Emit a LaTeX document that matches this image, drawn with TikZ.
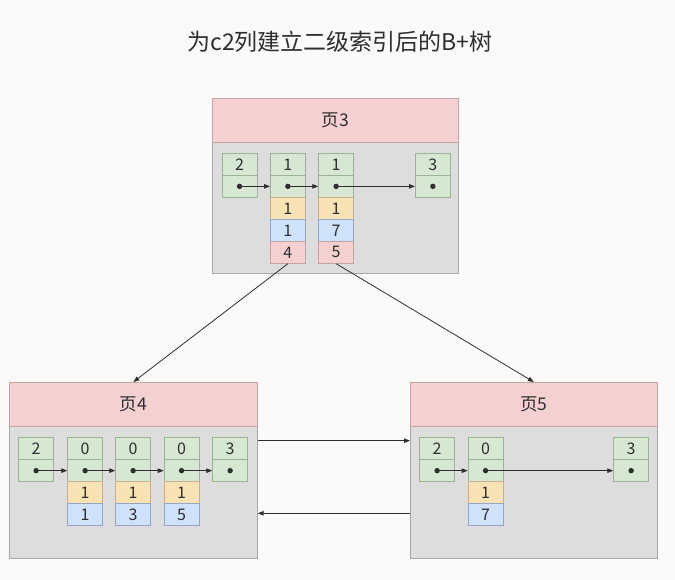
\documentclass[tikz,border=0pt]{standalone}
\usepackage{fontspec}
\setmainfont{Noto Sans CJK SC}
\usetikzlibrary{arrows.meta}
\definecolor{bgc}{HTML}{FAFAFA}
\definecolor{grnf}{HTML}{D6E8D2}
\definecolor{grnd}{HTML}{9DB298}
\definecolor{yelf}{HTML}{F9E2B4}
\definecolor{yeld}{HTML}{C4B08C}
\definecolor{bluf}{HTML}{CFE2FB}
\definecolor{blud}{HTML}{94A8C4}
\definecolor{pnkf}{HTML}{F4D0D0}
\definecolor{pnkd}{HTML}{C4A4A4}
\definecolor{bodf}{HTML}{DDDDDD}
\definecolor{bodd}{HTML}{A8A8A8}
\definecolor{txt}{HTML}{2E2E2E}
\tikzset{
  cellbox/.style={draw, line width=0.7pt, minimum width=35pt, minimum height=22pt, inner sep=0pt, anchor=north west, text=txt, font=\fontsize{16}{16}\selectfont},
  cgreen/.style={cellbox, fill=grnf, draw=grnd},
  cyel/.style={cellbox, fill=yelf, draw=yeld},
  cblue/.style={cellbox, fill=bluf, draw=blud},
  cpink/.style={cellbox, fill=pnkf, draw=pnkd},
  hdr/.style={draw=pnkd, fill=pnkf, line width=0.7pt, inner sep=0pt, anchor=north west, text=txt, font=\fontsize{17.5}{17.5}\selectfont},
  bod/.style={draw=bodd, fill=bodf, line width=0.7pt, inner sep=0pt, anchor=north west},
  link/.style={draw=txt, line width=0.8pt, -{Triangle[length=6pt,width=4.5pt]}},
  dotm/.style={fill=txt},
}
\newcommand{\mkcol}[4]{%
  \foreach \st/\tx [count=\i] in {#4} {
    \node[\st] (#1r\i) at (#2,{#3+(\i-1)*22}) {\tx};
  }
}
\newcommand{\mkdot}[1]{\fill[dotm] (#1) circle[radius=2.7pt];}
\begin{document}
\begin{tikzpicture}[x=1pt,y=-1pt]
\fill[bgc] (0,0) rectangle (675,580);
\useasboundingbox (0,0) rectangle (675,580);

\node[text=txt, font=\fontsize{23}{23}\selectfont] (title) at (340,41.5) {为c2列建立二级索引后的B+树};

% page 3
\node[bod, minimum width=246pt, minimum height=131pt] (p3b) at (212,142) {};
\node[hdr, minimum width=246pt, minimum height=44pt] (p3h) at (212,98) {页3};
\mkcol{p3a}{221.7}{153}{cgreen/2,cgreen/{}}
\mkcol{p3c}{270}{153}{cgreen/1,cgreen/{},cyel/1,cblue/1,cpink/4}
\mkcol{p3d}{318.3}{153}{cgreen/1,cgreen/{},cyel/1,cblue/7,cpink/5}
\mkcol{p3e}{415}{153}{cgreen/3,cgreen/{}}
\draw[link] (p3ar2.center) -- (p3cr2.west);
\draw[link] (p3cr2.center) -- (p3dr2.west);
\draw[link] (p3dr2.center) -- (p3er2.west);
\mkdot{p3ar2.center}\mkdot{p3cr2.center}\mkdot{p3dr2.center}\mkdot{p3er2.center}

% page 4
\node[bod, minimum width=248pt, minimum height=132pt] (p4b) at (9,426) {};
\node[hdr, minimum width=248pt, minimum height=44pt] (p4h) at (9,382) {页4};
\mkcol{p4a}{18.3}{437.3}{cgreen/2,cgreen/{}}
\mkcol{p4c}{67.3}{437.3}{cgreen/0,cgreen/{},cyel/1,cblue/1}
\mkcol{p4d}{115.3}{437.3}{cgreen/0,cgreen/{},cyel/1,cblue/3}
\mkcol{p4e}{163.7}{437.3}{cgreen/0,cgreen/{},cyel/1,cblue/5}
\mkcol{p4f}{212.3}{437.3}{cgreen/3,cgreen/{}}
\draw[link] (p4ar2.center) -- (p4cr2.west);
\draw[link] (p4cr2.center) -- (p4dr2.west);
\draw[link] (p4dr2.center) -- (p4er2.west);
\draw[link] (p4er2.center) -- (p4fr2.west);
\mkdot{p4ar2.center}\mkdot{p4cr2.center}\mkdot{p4dr2.center}\mkdot{p4er2.center}\mkdot{p4fr2.center}

% page 5
\node[bod, minimum width=247pt, minimum height=132pt] (p5b) at (410,426) {};
\node[hdr, minimum width=247pt, minimum height=44pt] (p5h) at (410,382) {页5};
\mkcol{p5a}{419.3}{437.3}{cgreen/2,cgreen/{}}
\mkcol{p5c}{467.7}{437.3}{cgreen/0,cgreen/{},cyel/1,cblue/7}
\mkcol{p5f}{613.3}{437.3}{cgreen/3,cgreen/{}}
\draw[link] (p5ar2.center) -- (p5cr2.west);
\draw[link] (p5cr2.center) -- (p5fr2.west);
\mkdot{p5ar2.center}\mkdot{p5cr2.center}\mkdot{p5fr2.center}

% tree links
\draw[link] (p3cr5.south) -- (p4h.north);
\draw[link] (p3dr5.south) -- (p5h.north);
\draw[link] ([yshift=-14.7pt]p4b.north east) -- ([yshift=-14.7pt]p5b.north west);
\draw[link] ([yshift=-87.3pt]p5b.north west) -- ([yshift=-87.3pt]p4b.north east);
\end{tikzpicture}
\end{document}
